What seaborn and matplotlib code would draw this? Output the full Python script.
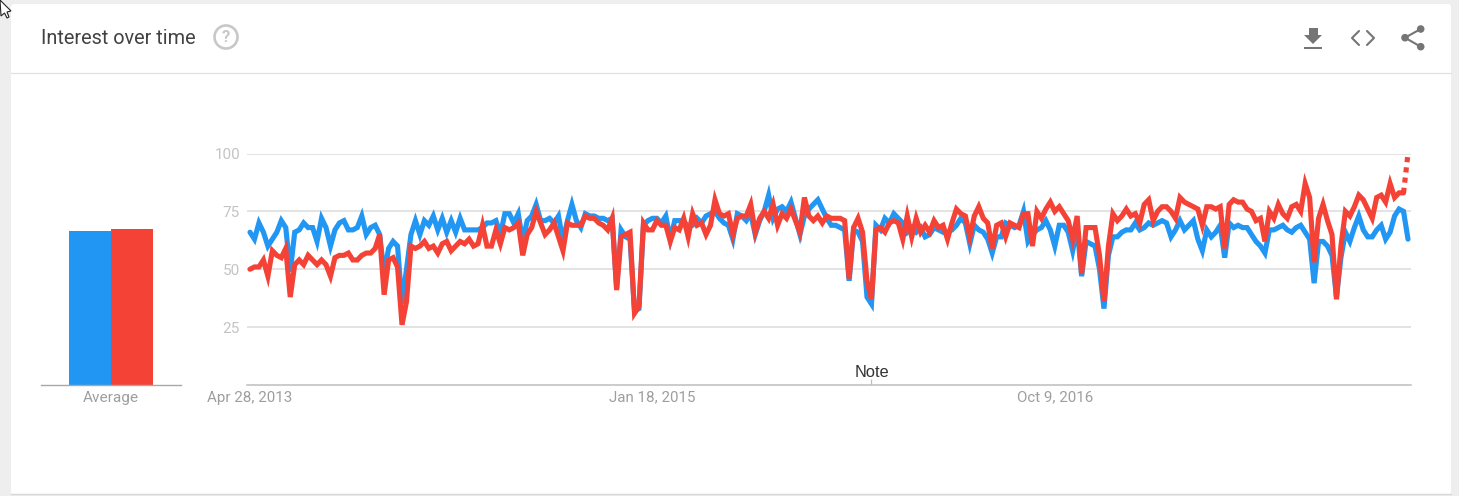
"""Interest over time panel, weekly search interest for two terms"""
import matplotlib.patches as mpatches
import numpy as np
import pandas as pd
import seaborn as sns
from matplotlib import pyplot as plt

WIDTH, HEIGHT = 1459, 496

BLUE = "#2196f3"
RED = "#f44336"

terms = ["Blue term", "Red term"]
average_values = [66.4, 67.5]

first_week = "2013-04-28"
date_ticks = ["2013-04-28", "2015-01-18", "2016-10-09"]
date_labels = ["Apr 28, 2013", "Jan 18, 2015", "Oct 9, 2016"]
y_ticks = [25, 50, 75, 100]
note_date = "2015-12-27"

blue_values = [
    66, 63, 70, 66, 60, 63, 66, 71, 68, 49,
    66, 67, 70, 68, 68, 62, 72, 68, 60, 67,
    70, 71, 67, 67, 68, 73, 65, 68, 69, 65,
    48, 59, 62, 60, 35, 50, 65, 71, 65, 71,
    69, 73, 67, 72, 66, 71, 66, 72, 67, 67,
    67, 67, 68, 70, 70, 71, 65, 74, 74, 70,
    74, 62, 71, 73, 78, 71, 71, 72, 70, 73,
    62, 71, 78, 71, 68, 74, 73, 73, 72, 72,
    71, 72, 42, 67, 64, 63, 32, 33, 69, 71,
    72, 72, 70, 73, 63, 71, 71, 71, 68, 69,
    72, 70, 73, 74, 75, 72, 70, 69, 63, 74,
    73, 71, 74, 65, 71, 75, 82, 72, 76, 77,
    75, 79, 72, 65, 73, 76, 78, 80, 76, 72,
    69, 69, 68, 67, 45, 67, 66, 62, 38, 35,
    69, 67, 72, 70, 74, 72, 70, 66, 68, 66,
    68, 64, 65, 68, 67, 66, 66, 67, 69, 72,
    70, 61, 69, 67, 66, 63, 57, 64, 64, 70,
    69, 68, 69, 75, 62, 65, 67, 68, 71, 67,
    60, 69, 69, 66, 58, 68, 47, 62, 61, 60,
    50, 33, 56, 64, 64, 66, 67, 67, 70, 67,
    68, 70, 69, 70, 71, 70, 64, 67, 71, 67,
    69, 71, 63, 58, 67, 64, 66, 69, 55, 70,
    68, 69, 68, 68, 65, 62, 60, 57, 67, 67,
    68, 69, 67, 66, 68, 69, 66, 63, 44, 62,
    62, 60, 56, 38, 55, 66, 62, 68, 73, 67,
    64, 64, 67, 69, 63, 66, 73, 76, 75, 63,
]

red_values = [
    50, 51, 51, 54, 47, 58, 56, 55, 59, 38,
    52, 54, 52, 56, 54, 52, 54, 52, 47, 55,
    56, 56, 57, 54, 54, 56, 57, 57, 59, 65,
    39, 54, 55, 51, 26, 36, 60, 59, 60, 62,
    59, 60, 57, 61, 62, 58, 60, 62, 61, 63,
    60, 61, 69, 60, 60, 67, 61, 68, 67, 68,
    70, 56, 65, 68, 75, 70, 65, 67, 70, 64,
    58, 70, 69, 69, 69, 73, 72, 72, 70, 69,
    67, 72, 41, 64, 65, 66, 31, 34, 70, 67,
    67, 71, 69, 69, 62, 68, 67, 72, 64, 74,
    69, 70, 65, 69, 80, 74, 73, 74, 65, 72,
    73, 73, 78, 66, 72, 75, 72, 78, 69, 74,
    72, 76, 71, 66, 81, 73, 71, 73, 70, 73,
    72, 72, 72, 71, 46, 68, 72, 66, 45, 37,
    67, 68, 66, 70, 71, 70, 63, 73, 64, 72,
    66, 69, 66, 71, 68, 69, 63, 70, 76, 74,
    73, 64, 73, 77, 72, 70, 59, 69, 70, 64,
    70, 69, 68, 74, 74, 60, 75, 72, 76, 79,
    75, 77, 74, 71, 63, 73, 48, 68, 68, 68,
    56, 36, 60, 74, 71, 73, 76, 73, 74, 70,
    78, 80, 71, 75, 77, 77, 75, 72, 81, 79,
    78, 77, 76, 69, 77, 77, 76, 77, 59, 78,
    80, 79, 79, 76, 75, 71, 72, 62, 75, 72,
    78, 74, 72, 77, 78, 75, 87, 81, 53, 72,
    78, 71, 65, 37, 60, 75, 73, 77, 82, 80,
    76, 72, 81, 82, 79, 87, 81, 83, 83, 100,
]


def px_axes(fig, x0, y0, x1, y1, **kwargs):
    """Axes placed by picture pixels, y measured from the top"""
    return fig.add_axes(
        [x0 / WIDTH, 1 - y1 / HEIGHT, (x1 - x0) / WIDTH, (y1 - y0) / HEIGHT], **kwargs
    )


def draw_chrome(ax):
    """Card, header line, icons and pointer, in pixel coordinates"""
    ax.set_xlim(0, WIDTH)
    ax.set_ylim(HEIGHT, 0)
    ax.axis("off")

    ax.add_patch(
        mpatches.FancyBboxPatch(
            (13, 6), 1436, 487, boxstyle="round,pad=2,rounding_size=3",
            fc="white", ec="none",
        )
    )
    ax.plot([11, 1451], [494, 494], color="#d8d8d8", lw=1)
    ax.plot([11, 1451], [73, 73], color="#e0e0e0", lw=0.9)

    ax.text(41, 38, "Interest over time", fontsize=14.3, color="#424242", va="center")
    ax.add_patch(mpatches.Circle((226, 37), 11.5, fc="none", ec="#c8c8c8", lw=1.9))
    ax.text(226, 37.5, "?", fontsize=12, fontweight="bold", color="#c8c8c8",
            ha="center", va="center")

    grey = "#757575"
    # download
    ax.add_patch(mpatches.Rectangle((1308.5, 28), 9, 7.5, fc=grey, ec="none"))
    ax.add_patch(mpatches.Polygon([(1304, 35), (1322, 35), (1313, 44)], fc=grey, ec="none"))
    ax.add_patch(mpatches.Rectangle((1304, 46.5), 18, 2.2, fc=grey, ec="none"))
    # embed
    ax.plot([1359, 1352, 1359], [31, 38, 45], color=grey, lw=1.5)
    ax.plot([1367, 1374, 1367], [31, 38, 45], color=grey, lw=1.5)
    # share
    ax.plot([1420.7, 1405, 1420.7], [29, 37.7, 46.7], color=grey, lw=1.5)
    for cx, cy in [(1420.7, 29), (1405, 37.7), (1420.7, 46.7)]:
        ax.add_patch(mpatches.Circle((cx, cy), 3.8, fc=grey, ec="none"))

    # mouse pointer left in the screenshot
    ax.add_patch(
        mpatches.Polygon(
            [(0, 0), (11, 11), (7, 12), (9, 17), (7, 18), (4.5, 13), (1, 16)],
            fc="white", ec="#222222", lw=0.8,
        )
    )


sns.set_theme(style="white")
plt.rcParams["font.family"] = ["Roboto", "DejaVu Sans"]

weeks = pd.date_range(first_week, periods=len(blue_values), freq="7D")
df = pd.DataFrame(
    {
        "week": np.concatenate([weeks, weeks]),
        "term": [terms[0]] * len(weeks) + [terms[1]] * len(weeks),
        "interest": blue_values + red_values,
    }
)
# the newest red point is partial data, drawn dotted
is_last_red = (df["term"] == terms[1]) & (df["week"] == weeks[-1])
is_prev_red = (df["term"] == terms[1]) & (df["week"] == weeks[-2])
df_solid = df[~is_last_red]
df_partial = df[is_last_red | is_prev_red]
df_average = pd.DataFrame({"term": terms, "interest": average_values, "group": "Average"})
palette = dict(zip(terms, [BLUE, RED]))

fig = plt.figure(figsize=(WIDTH / 100, HEIGHT / 100), dpi=100, facecolor="#eeeeee")

chrome = px_axes(fig, 0, 0, WIDTH, HEIGHT, zorder=0)
draw_chrome(chrome)

# average bars
ax_bar = px_axes(fig, 41, 153.5, 181, 385, zorder=1)
ax_bar.patch.set_alpha(0)
sns.barplot(
    data=df_average, x="group", y="interest", hue="term", palette=palette,
    width=0.607, gap=0, saturation=1, legend=False, linewidth=0, ax=ax_bar,
)
ax_bar.set_xlim(-0.5, 0.5)
ax_bar.set_ylim(0, 100)
ax_bar.set_xlabel(None)
ax_bar.set_ylabel(None)
ax_bar.set_yticks([])
ax_bar.tick_params(axis="x", length=0, pad=4, labelsize=11.1, labelcolor="#9e9e9e")
sns.despine(ax=ax_bar, left=True)
ax_bar.spines["bottom"].set_color("#a8a8a8")
ax_bar.spines["bottom"].set_linewidth(1)

# weekly lines
ax = px_axes(fig, 247, 153.5, 1411, 385, zorder=1)
ax.patch.set_alpha(0)
ax.set_axisbelow(True)
ax.yaxis.grid(True, color="#e0e0e0", lw=1.3)
sns.lineplot(
    data=df_solid, x="week", y="interest", hue="term", hue_order=terms,
    palette=palette, linewidth=3.7, estimator=None, sort=False, legend=False,
    solid_joinstyle="miter", ax=ax,
)
sns.lineplot(
    data=df_partial, x="week", y="interest", color=RED, linewidth=3.7,
    linestyle=(0, (1, 1)), estimator=None, legend=False, ax=ax,
)
for line in ax.lines:
    line.set_clip_on(False)

pad = pd.Timedelta(weeks=3 / 4.47)
ax.set_xlim(weeks[0] - pad, weeks[-1] + pad)
ax.set_ylim(0, 100)
ax.set_xlabel(None)
ax.set_ylabel(None)
ax.set_yticks(y_ticks)
ax.set_xticks(pd.to_datetime(date_ticks))
ax.set_xticklabels(date_labels)
ax.tick_params(axis="y", length=0, pad=5, labelsize=11, labelcolor="#c4c4c4")
ax.tick_params(axis="x", length=0, pad=4, labelsize=10.9, labelcolor="#9e9e9e")
sns.despine(ax=ax, left=True)
ax.spines["bottom"].set_color("#bdbdbd")
ax.spines["bottom"].set_linewidth(1.1)

# annotation marker on the axis
ax.vlines(pd.Timestamp(note_date), 0, 2.6, color="#bdbdbd", lw=0.9)
ax.text(pd.Timestamp(note_date), 5.3, "Note", ha="center", va="center",
        fontsize=11.8, color="#333333", family="Liberation Sans")

fig.savefig("out.png", dpi=100, facecolor=fig.get_facecolor())
